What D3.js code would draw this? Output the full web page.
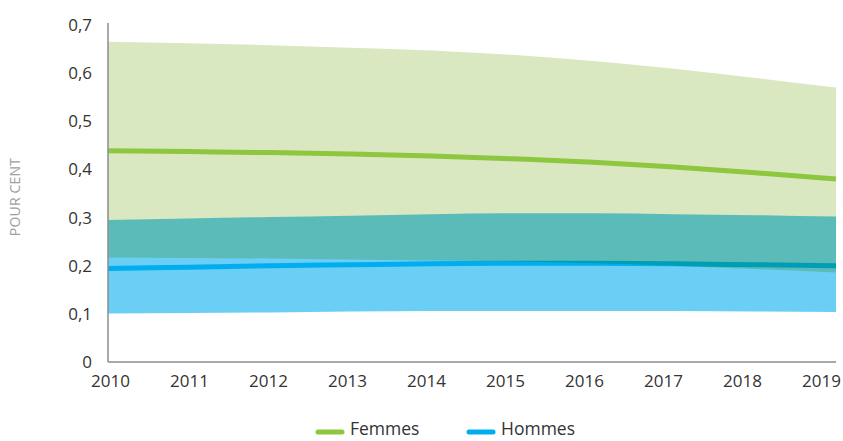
<!DOCTYPE html>
<html><head><meta charset="utf-8">
<script src="https://cdn.jsdelivr.net/npm/d3@7"></script>
<style>
html,body{margin:0;padding:0;background:#fff;}
svg{display:block;font-family:"Open Sans",Lato,sans-serif;}
</style></head>
<body><svg id="c" width="843" height="441"></svg>
<script>
const years = [2010,2011,2012,2013,2014,2015,2016,2017,2018,2019];
const femmesHigh = [0.665,0.662,0.658,0.653,0.647,0.638,0.625,0.609,0.590,0.570];
const femmesMid  = [0.439,0.437,0.435,0.432,0.428,0.422,0.415,0.405,0.393,0.380];
const femmesLow  = [0.217,0.216,0.215,0.213,0.211,0.209,0.205,0.200,0.193,0.186];
const hommesHigh = [0.295,0.298,0.301,0.304,0.307,0.309,0.309,0.307,0.305,0.302];
const hommesMid  = [0.194,0.197,0.200,0.202,0.204,0.205,0.205,0.204,0.202,0.200];
const hommesLow  = [0.101,0.102,0.103,0.105,0.106,0.106,0.106,0.106,0.105,0.104];
const yTicks = [0,0.1,0.2,0.3,0.4,0.5,0.6,0.7];
const yTickLabels = ["0","0,1","0,2","0,3","0,4","0,5","0,6","0,7"];
const seriesNames = ["Femmes","Hommes"];
const yAxisTitle = "POUR CENT";

const svg = d3.select("#c");
const x = d3.scaleLinear().domain([2010,2019]).range([108,836]);
const xLab = d3.scaleLinear().domain([2010,2019]).range([110,821]);
const y = d3.scaleLinear().domain([0,0.7]).range([362,25]);

const area = (hi,lo)=>d3.area().x((d,i)=>x(years[i])).y0((d,i)=>y(lo[i])).y1((d,i)=>y(hi[i])).curve(d3.curveMonotoneX)(years);
const line = (v)=>d3.line().x((d,i)=>x(years[i])).y((d,i)=>y(v[i])).curve(d3.curveMonotoneX)(years);

const g = svg.append("g").style("isolation","isolate");
g.append("path").attr("d",area(hommesHigh,hommesLow)).attr("fill","#6acef5");
g.append("path").attr("d",line(hommesMid)).attr("fill","none").attr("stroke","#00aeef").attr("stroke-width",5);
g.append("path").attr("d",area(femmesHigh,femmesLow)).attr("fill","#d9e8c1").style("mix-blend-mode","multiply");
g.append("path").attr("d",line(femmesMid)).attr("fill","none").attr("stroke","#8dc63f").attr("stroke-width",5);

// axes lines
svg.append("line").attr("x1",x(2010)).attr("x2",x(2010)).attr("y1",y(0.7)-2).attr("y2",y(0)).attr("stroke","#8c8c8c").attr("stroke-width",1.5);
svg.append("line").attr("x1",x(2010)).attr("x2",x(2019)).attr("y1",y(0)).attr("y2",y(0)).attr("stroke","#8c8c8c").attr("stroke-width",1.5);

const yAx = d3.axisLeft(y).tickValues(yTicks).tickFormat((d,i)=>yTickLabels[i]).tickSize(0).tickPadding(16);
const ya = svg.append("g").attr("transform",`translate(${x(2010)},0)`).call(yAx);
ya.select(".domain").remove();
ya.selectAll("text").attr("font-size",17).attr("fill","#333").attr("font-family","'Open Sans',sans-serif");

const xAx = d3.axisBottom(xLab).tickValues(years).tickFormat(d=>String(d)).tickSize(0).tickPadding(13);
const xa = svg.append("g").attr("transform",`translate(0,${y(0)})`).call(xAx);
xa.select(".domain").remove();
xa.selectAll("text").attr("font-size",17).attr("fill","#333").attr("font-family","'Open Sans',sans-serif");

svg.append("text").attr("transform","translate(20,197) rotate(-90)").attr("text-anchor","middle")
  .attr("font-size",14).attr("fill","#a0a0a0").attr("letter-spacing",0.2).text(yAxisTitle);

const leg = [{name:seriesNames[0],color:"#8dc63f",x:318},{name:seriesNames[1],color:"#00aeef",x:469}];
leg.forEach(l=>{
  svg.append("line").attr("x1",l.x).attr("x2",l.x+24).attr("y1",432).attr("y2",432).attr("stroke",l.color).attr("stroke-width",5).attr("stroke-linecap","round");
  svg.append("text").attr("x",l.x+32).attr("y",435).attr("font-size",17.5).attr("fill","#333").text(l.name);
});
</script></body></html>
